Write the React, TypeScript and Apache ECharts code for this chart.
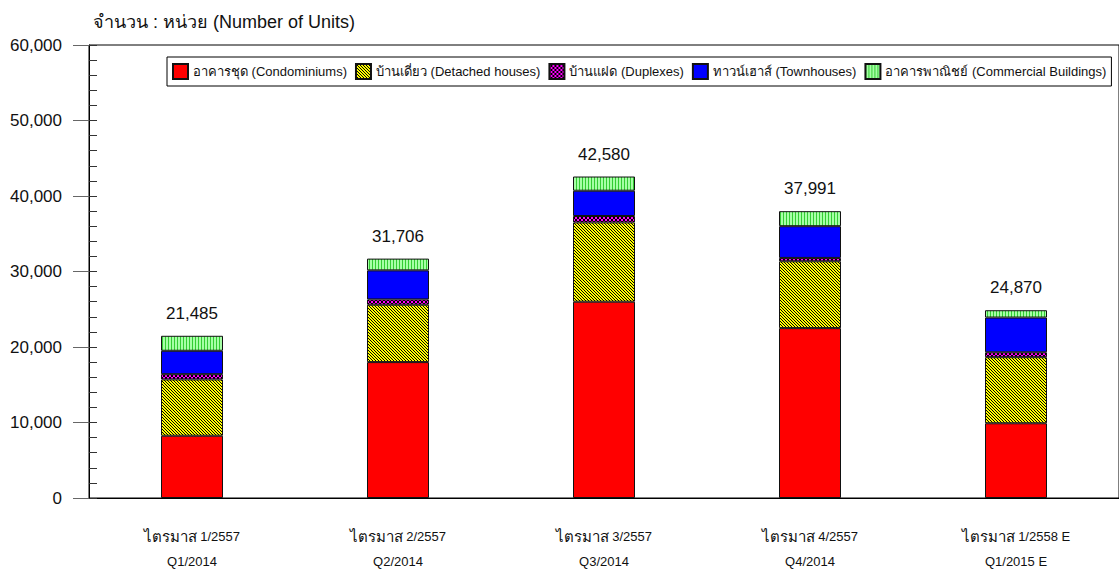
import React, { useEffect, useRef } from "react";
import * as echarts from "echarts";

const thaiLabels = ["ไตรมาส", "ไตรมาส", "ไตรมาส", "ไตรมาส", "ไตรมาส"];
const quarterLabels = ["1/2557", "2/2557", "3/2557", "4/2557", "1/2558 E"];
const engLabels = ["Q1/2014", "Q2/2014", "Q3/2014", "Q4/2014", "Q1/2015 E"];
const seriesNames = [
  "อาคารชุด (Condominiums)",
  "บ้านเดี่ยว (Detached houses)",
  "บ้านแฝด (Duplexes)",
  "ทาวน์เฮาส์ (Townhouses)",
  "อาคารพาณิชย์ (Commercial Buildings)",
];
const condominiums = [8250, 18000, 26000, 22500, 9900];
const detached = [7450, 7600, 10500, 8850, 8750];
const duplexes = [700, 700, 850, 450, 650];
const townhouses = [3100, 3850, 3350, 4200, 4600];
const commercial = [1985, 1556, 1880, 1991, 970];
const totals = [21485, 31706, 42580, 37991, 24870];

function makePattern(w: number, h: number, bg: string, fg: string, pts: number[][]) {
  const c = document.createElement("canvas");
  c.width = w;
  c.height = h;
  const ctx = c.getContext("2d")!;
  ctx.fillStyle = bg;
  ctx.fillRect(0, 0, w, h);
  ctx.fillStyle = fg;
  pts.forEach(([x, y]) => ctx.fillRect(x, y, 1, 1));
  return { image: c, repeat: "repeat" } as any;
}

export default function App() {
  const ref = useRef<HTMLDivElement>(null);
  useEffect(() => {
    const chart = echarts.init(ref.current!, undefined, { renderer: "svg" });
    const font = 'Arial, "Liberation Sans", sans-serif';
    const yellow = makePattern(3, 3, "#FFFF00", "#000000", [[0, 0], [1, 1], [2, 2]]);
    const magenta = makePattern(4, 4, "#FF00FF", "#000000", [[0, 0], [1, 1], [2, 2], [3, 3], [3, 0], [2, 1], [1, 2], [0, 3]]);
    const green = makePattern(3, 1, "#A6FFA6", "#33CC33", [[0, 0]]);
    const colors = ["#FF0000", yellow, magenta, "#0000FF", green];
    const datas = [condominiums, detached, duplexes, townhouses, commercial];
    const cats = thaiLabels.map((t, i) => t + "|" + quarterLabels[i] + "|" + engLabels[i]);

    chart.setOption({
      animation: false,
      textStyle: { fontFamily: font },
      title: {
        text: "จำนวน : หน่วย (Number of Units)",
        left: 88,
        top: 8,
        textStyle: { fontSize: 18, fontWeight: "normal", color: "#111", fontFamily: font },
      },
      legend: {
        left: 167,
        top: 57,
        padding: [6, 5],
        itemWidth: 15,
        itemHeight: 15,
        itemGap: 8,
        icon: "rect",
        borderColor: "#000",
        borderWidth: 1,
        backgroundColor: "#fff",
        textStyle: { fontSize: 13, color: "#111", fontFamily: font, padding: [0, 0, 0, 0] },
        data: seriesNames,
      },
      grid: {
        left: 89,
        top: 45,
        width: 1032,
        height: 453,
        show: true,
        borderColor: "#000",
        borderWidth: 1,
        containLabel: false,
      },
      xAxis: [
        {
          type: "category",
          data: cats,
          axisLine: { lineStyle: { color: "#000", width: 1 } },
          axisTick: { alignWithLabel: true, length: 17, lineStyle: { color: "#333" } },
          axisLabel: {
            color: "#111",
            margin: 26,
            fontFamily: font,
            formatter: (v: string) => {
              const [t, q, e] = v.split("|");
              return "{th|" + t + "} {q|" + q + "}\n{e|" + e + "}";
            },
            rich: {
              th: { fontSize: 15, lineHeight: 25, color: "#111", fontFamily: font },
              q: { fontSize: 13, lineHeight: 25, color: "#111", fontFamily: font },
              e: { fontSize: 13, lineHeight: 25, color: "#111", fontFamily: font },
            },
          },
        },
        {
          type: "category",
          data: cats,
          position: "bottom",
          z: 10,
          axisLine: { show: false },
          axisTick: { alignWithLabel: true, inside: true, length: 15, lineStyle: { color: "#333" } },
          axisLabel: { show: false },
        },
      ],
      yAxis: [
        {
          type: "value",
          min: 0,
          max: 60000,
          interval: 10000,
          axisLine: { show: true, lineStyle: { color: "#000" } },
          axisTick: { show: true, length: 16, lineStyle: { color: "#666" } },
          splitLine: { show: false },
          axisLabel: {
            fontSize: 17,
            color: "#111",
            margin: 27,
            fontFamily: font,
            formatter: (v: number) => v.toLocaleString("en-US"),
          },
        },
        {
          type: "value",
          min: 0,
          max: 60000,
          interval: 10000,
          position: "left",
          axisLine: { show: false },
          axisTick: { show: true, inside: true, length: 8, lineStyle: { color: "#333" } },
          minorTick: { show: true, splitNumber: 5, length: 8, lineStyle: { color: "#333" } },
          splitLine: { show: false },
          axisLabel: { show: false },
        },
      ],
      series: datas.map((d, i) => ({
        name: seriesNames[i],
        type: "bar",
        stack: "total",
        barWidth: 62,
        data: d,
        itemStyle: { color: colors[i], borderColor: "#111", borderWidth: 1 },
        label:
          i === datas.length - 1
            ? {
                show: true,
                position: "top",
                distance: 14,
                fontSize: 17,
                color: "#111",
                fontFamily: font,
                formatter: (p: any) => totals[p.dataIndex].toLocaleString("en-US"),
              }
            : { show: false },
      })),
    });
    return () => chart.dispose();
  }, []);
  return (
    <div
      ref={ref}
      style={{ position: "absolute", left: 0, top: 0, width: 1119, height: 571, background: "#fff" }}
    />
  );
}
